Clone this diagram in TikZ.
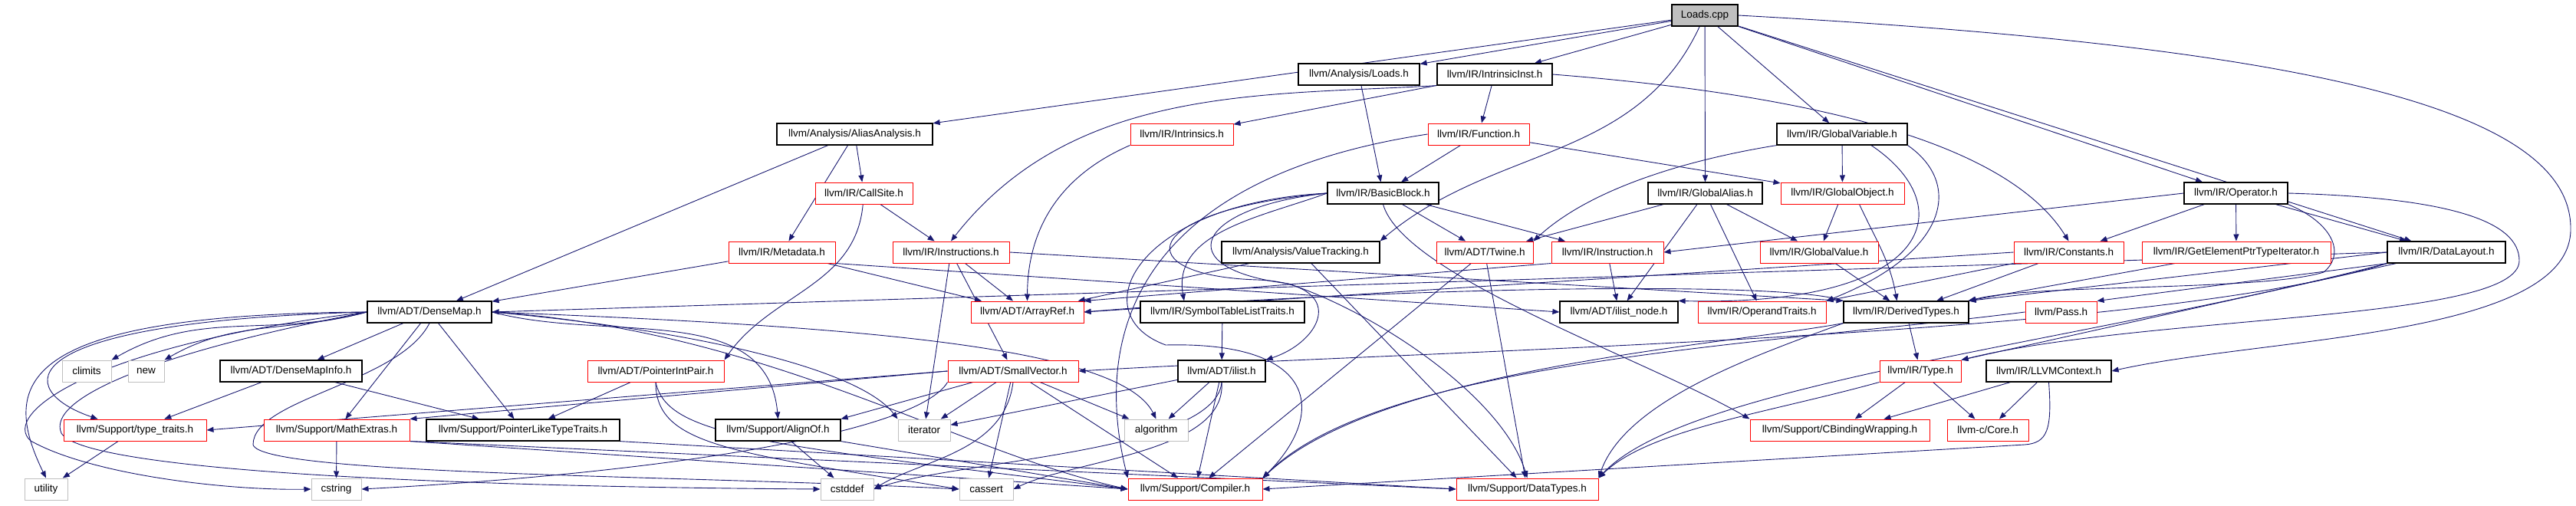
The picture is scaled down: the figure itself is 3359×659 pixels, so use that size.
\documentclass[tikz,border=0pt]{standalone}
\usepackage{fontspec}
\setsansfont{Liberation Sans}
\usetikzlibrary{arrows.meta,positioning,backgrounds}
\definecolor{IncNavy}{RGB}{25,25,112}
\definecolor{HdrGray}{RGB}{191,191,191}
\tikzset{
  hdr/.style={draw=black,line width=1.2pt,fill=white,minimum height=28,inner sep=0pt,
    font=\sffamily\fontsize{13.5}{14}\selectfont},
  hdrred/.style={hdr,draw=red,line width=1pt},
  syshdr/.style={hdr,draw=HdrGray,line width=1pt},
  inc/.style={-{Triangle[length=9pt,width=7pt]},draw=IncNavy,line width=0.9pt}
}

\begin{document}
\begin{tikzpicture}[x=1pt,y=1pt,line cap=round]
\useasboundingbox (0,0) rectangle (3359,-659);
% row 0 - 2
\node[hdr,fill=HdrGray,minimum width=86] (loadscpp) at (2223,-20) {Loads.cpp};
\node[hdr,minimum width=158] (loadsh) at (1772,-97) {llvm/Analysis/Loads.h};
\node[hdr,minimum width=150] (intrinsicinst) at (1949,-97) {llvm/IR/IntrinsicInst.h};
\node[hdr,minimum width=203] (aliasanalysis) at (1114.5,-175) {llvm/Analysis/AliasAnalysis.h};
\node[hdrred,minimum width=134] (intrinsics) at (1541,-175) {llvm/IR/Intrinsics.h};
\node[hdrred,minimum width=132] (function) at (1928,-175) {llvm/IR/Function.h};
\node[hdr,minimum width=170] (globalvariable) at (2402,-175) {llvm/IR/GlobalVariable.h};
% row 3
\node[hdrred,minimum width=127] (callsite) at (1126.5,-252) {llvm/IR/CallSite.h};
\node[hdr,minimum width=145] (basicblock) at (1803.5,-252) {llvm/IR/BasicBlock.h};
\node[hdr,minimum width=149] (globalalias) at (2223.5,-252) {llvm/IR/GlobalAlias.h};
\node[hdrred,minimum width=161] (globalobject) at (2402.5,-252) {llvm/IR/GlobalObject.h};
\node[hdr,minimum width=135] (operator) at (2915.5,-252) {llvm/IR/Operator.h};
% row 4
\node[hdrred,minimum width=139] (metadata) at (1019.5,-329) {llvm/IR/Metadata.h};
\node[hdrred,minimum width=152] (instructions) at (1240,-329) {llvm/IR/Instructions.h};
\node[hdr,minimum width=206] (valuetracking) at (1696,-329) {llvm/Analysis/ValueTracking.h};
\node[hdrred,minimum width=126] (twine) at (1936,-329) {llvm/ADT/Twine.h};
\node[hdrred,minimum width=146] (instruction) at (2096,-329) {llvm/IR/Instruction.h};
\node[hdrred,minimum width=154] (globalvalue) at (2372,-329) {llvm/IR/GlobalValue.h};
\node[hdrred,minimum width=143] (constants) at (2697.5,-329) {llvm/IR/Constants.h};
\node[hdrred,minimum width=246] (gepti) at (2916,-329) {llvm/IR/GetElementPtrTypeIterator.h};
\node[hdr,minimum width=154] (datalayout) at (3190,-329) {llvm/IR/DataLayout.h};
% row 5
\node[hdr,minimum width=162] (densemap) at (560,-407) {llvm/ADT/DenseMap.h};
\node[hdrred,minimum width=147] (arrayref) at (1339.5,-407) {llvm/ADT/ArrayRef.h};
\node[hdr,minimum width=214] (symtab) at (1594,-407) {llvm/IR/SymbolTableListTraits.h};
\node[hdr,minimum width=154] (ilistnode) at (2111,-407) {llvm/ADT/ilist\_node.h};
\node[hdrred,minimum width=167] (operandtraits) at (2297.5,-407) {llvm/IR/OperandTraits.h};
\node[hdr,minimum width=163] (derivedtypes) at (2485.5,-407) {llvm/IR/DerivedTypes.h};
\node[hdrred,minimum width=93] (pass) at (2687.5,-407) {llvm/Pass.h};
% row 6
\node[syshdr,minimum width=64] (climits) at (113,-484) {climits};
\node[syshdr,minimum width=47] (new) at (190.5,-484) {new};
\node[hdr,minimum width=185] (densemapinfo) at (379.5,-484) {llvm/ADT/DenseMapInfo.h};
\node[hdrred,minimum width=178] (pointerintpair) at (855,-484) {llvm/ADT/PointerIntPair.h};
\node[hdrred,minimum width=170] (smallvector) at (1321,-484) {llvm/ADT/SmallVector.h};
\node[hdr,minimum width=114] (ilist) at (1593,-484) {llvm/ADT/ilist.h};
\node[hdrred,minimum width=106] (type) at (2504,-484) {llvm/IR/Type.h};
\node[hdr,minimum width=163] (llvmcontext) at (2671.5,-484) {llvm/IR/LLVMContext.h};
% row 7
\node[hdrred,minimum width=186] (typetraits) at (176,-561) {llvm/Support/type\_traits.h};
\node[hdrred,minimum width=190] (mathextras) at (439,-561) {llvm/Support/MathExtras.h};
\node[hdr,minimum width=252] (plt) at (682,-561) {llvm/Support/PointerLikeTypeTraits.h};
\node[hdr,minimum width=163] (alignof) at (1014.5,-561) {llvm/Support/AlignOf.h};
\node[syshdr,minimum width=68] (iterator) at (1205,-561) {iterator};
\node[syshdr,minimum width=83] (algorithm) at (1507.5,-561) {algorithm};
\node[hdrred,minimum width=234] (cbinding) at (2399,-561) {llvm/Support/CBindingWrapping.h};
\node[hdrred,minimum width=106] (core) at (2592,-561) {llvm-c/Core.h};
% row 8
\node[syshdr,minimum width=56] (utility) at (60,-638) {utility};
\node[syshdr,minimum width=65] (cstring) at (438.5,-638) {cstring};
\node[syshdr,minimum width=69] (cstddef) at (1104.5,-638) {cstddef};
\node[syshdr,minimum width=70] (cassert) at (1286,-638) {cassert};
\node[hdrred,minimum width=175] (compiler) at (1558.5,-638) {llvm/Support/Compiler.h};
\node[hdrred,minimum width=185] (datatypes) at (1991.5,-638) {llvm/Support/DataTypes.h};

\begin{scope}[on background layer]
% Loads.cpp
\draw[inc] (loadscpp) -- (loadsh); \draw[inc] (loadscpp) -- (intrinsicinst);
\draw[inc] (loadscpp) -- (aliasanalysis);
\draw[inc] (loadscpp) to[out=-115,in=40] (valuetracking.north east);
\draw[inc] (loadscpp) -- (globalalias); \draw[inc] (loadscpp) -- (globalvariable);
\draw[inc] (loadscpp) -- (operator); \draw[inc] (loadscpp) -- (datalayout);
\draw[inc] (loadscpp.east) .. controls (3000,-60) and (3355,-140) .. (3352,-300)
  .. controls (3350,-440) and (2950,-440) .. (llvmcontext.east);
% rows 1 - 2
\draw[inc] (loadsh) -- (basicblock);
\draw[inc] (intrinsicinst) -- (intrinsics); \draw[inc] (intrinsicinst) -- (function);
\draw[inc] (intrinsicinst.south west) .. controls (1650,-125) and (1400,-110) .. (instructions.north);
\draw[inc] (intrinsicinst.east) .. controls (2380,-125) and (2620,-190) .. (constants.north);
\draw[inc] (aliasanalysis) -- (densemap); \draw[inc] (aliasanalysis) -- (metadata);
\draw[inc] (aliasanalysis) -- (callsite);
\draw[inc] (intrinsics.south west) .. controls (1380,-230) and (1340,-300) .. (arrayref.north);
\draw[inc] (function) -- (basicblock); \draw[inc] (function) -- (globalobject);
\draw[inc] (function.west) .. controls (1500,-230) and (1420,-420) .. (compiler.north west);
\draw[inc] (globalvariable.south west) .. controls (2220,-205) and (2080,-240) .. (twine.north east);
\draw[inc] (globalvariable) -- (globalobject);
\draw[inc] (globalvariable.south east) .. controls (2560,-240) and (2540,-330) .. (operandtraits.north east);
\draw[inc] ([xshift=38]globalvariable.south) .. controls (2560,-270) and (2520,-400) .. (ilistnode.north east);
% row 3
\draw[inc] (callsite) -- (instructions);
\draw[inc] (callsite) to[out=-95,in=55] (pointerintpair.north east);
\draw[inc] (basicblock) -- (twine); \draw[inc] (basicblock) -- (instruction);
\draw[inc] (basicblock.west) to[out=200,in=100] ([xshift=-50]symtab.north);
\draw[inc] (basicblock.west) .. controls (1480,-275) and (1470,-360) .. (1640,-365)
  .. controls (1760,-370) and (1725,-445) .. (ilist.north east);
\draw[inc] (basicblock.south) .. controls (1830,-360) and (2150,-470) .. (cbinding.north west);
\draw[inc] (basicblock.west) .. controls (1560,-270) and (1520,-350) .. (1680,-370)
  .. controls (1800,-410) and (1960,-520) .. (datatypes.north);
\draw[inc] (basicblock.west) .. controls (1480,-265) and (1410,-410) .. (1520,-450)
  .. controls (1720,-445) and (1730,-540) .. (compiler.north east);
\draw[inc] (globalalias) -- (twine); \draw[inc] (globalalias) -- (globalvalue);
\draw[inc] (globalalias) -- (ilistnode); \draw[inc] (globalalias) -- (operandtraits);
\draw[inc] (globalobject) -- (globalvalue);
\draw[inc] ([xshift=22]globalobject.south) to[out=-65,in=100] ([xshift=-12]derivedtypes.north);
\draw[inc] (operator.west) -- (instruction.east);
\draw[inc] (operator) -- (constants); \draw[inc] (operator) -- (gepti);
\draw[inc] (operator) -- (datalayout);
\draw[inc] (operator.south east) .. controls (3040,-290) and (3060,-330) .. (3030,-355)
  .. controls (2950,-380) and (2650,-370) .. (derivedtypes.north east);
\draw[inc] (operator.east) .. controls (3200,-258) and (3285,-290) .. (3285,-340)
  .. controls (3285,-420) and (2800,-410) .. (type.north east);
% row 4
\draw[inc] (metadata) -- (densemap); \draw[inc] (metadata) -- (arrayref);
\draw[inc] (metadata.south east) -- (ilistnode.west);
\draw[inc] (instructions) -- (arrayref); \draw[inc] (instructions) -- (smallvector);
\draw[inc] (instructions) -- (iterator);
\draw[inc] (instructions.east) -- (derivedtypes.north west);
\draw[inc] (valuetracking) -- (arrayref); \draw[inc] (valuetracking) -- (datatypes);
\draw[inc] (twine) -- (compiler); \draw[inc] (twine) -- (datatypes);
\draw[inc] (instruction) -- (ilistnode);
\draw[inc] (instruction.south west) -- (arrayref.north east);
\draw[inc] (globalvalue) -- (derivedtypes);
\draw[inc] (constants) -- (derivedtypes);
\draw[inc] (constants.south west) -- (operandtraits.north east);
\draw[inc] (constants.west) -- (arrayref.east);
\draw[inc] (gepti) -- (derivedtypes);
\draw[inc] (datalayout.west) -- (densemap.east);
\draw[inc] (datalayout.south west) .. controls (2800,-440) and (1900,-455) .. (smallvector.east);
\draw[inc] (datalayout.west) -- (derivedtypes.north east);
\draw[inc] (datalayout.south west) -- (pass.north east);
\draw[inc] (datalayout) -- (type.north east);
\draw[inc] (datalayout.south west) .. controls (2700,-450) and (2200,-500) .. (datatypes.north east);
% row 5
\draw[inc] (densemap) -- (densemapinfo);
\draw[inc] (densemap.west) to[out=195,in=30] (climits.north east);
\draw[inc] (densemap.west) to[out=195,in=30] (new.north east);
\draw[inc] (densemap.west) .. controls (0,-420) and (20,-510) .. ([xshift=45]typetraits.north west);
\draw[inc] (densemap.west) .. controls (20,-410) and (0,-500) .. (utility.north);
\draw[inc] (densemap.west) .. controls (120,-450) and (0,-540) .. (40,-575)
  .. controls (120,-620) and (300,-640) .. (cstring.west);
\draw[inc] (densemap.west) .. controls (200,-460) and (60,-520) .. (80,-565)
  .. controls (110,-615) and (600,-635) .. (cstddef.west);
\draw[inc] (densemap) -- (mathextras); \draw[inc] (densemap) -- (plt);
\draw[inc] (densemap.south) .. controls (520,-500) and (330,-520) .. (330,-580)
  .. controls (340,-620) and (900,-620) .. (cassert.west);
\draw[inc] (densemap.east) to[out=-15,in=95] (alignof.north);
\draw[inc] (densemap.east) .. controls (900,-430) and (1120,-480) .. (iterator.north west);
\draw[inc] (densemap.east) .. controls (1100,-425) and (1460,-450) .. (algorithm.north);
\draw[inc] (densemap.east) .. controls (1000,-430) and (1250,-590) .. (compiler.west);
\draw[inc] (symtab) -- (ilist);
\draw[inc] (derivedtypes) -- (type);
\draw[inc] (derivedtypes.north west) .. controls (2330,-365) and (1800,-375) .. (arrayref.east);
\draw[inc] (derivedtypes.south west) .. controls (2250,-450) and (1800,-480) .. (compiler.north east);
\draw[inc] (derivedtypes.south west) .. controls (2300,-460) and (2120,-520) .. (datatypes.north east);
\draw[inc] (pass.west) .. controls (2300,-450) and (1800,-470) .. (compiler.north east);
% row 6
\draw[inc] (densemapinfo) -- (typetraits); \draw[inc] (densemapinfo) -- (plt);
\draw[inc] (pointerintpair) -- (plt);
\draw[inc] (pointerintpair.south) .. controls (855,-580) and (950,-590) .. (cassert.west);
\draw[inc] (pointerintpair.south) .. controls (870,-570) and (1000,-580) .. (compiler.west);
\draw[inc] (smallvector.west) -- (typetraits.east);
\draw[inc] (smallvector.west) -- (mathextras.north east);
\draw[inc] (smallvector) -- (alignof.north east);
\draw[inc] (smallvector) -- (iterator); \draw[inc] (smallvector) -- (algorithm);
\draw[inc] (smallvector) -- (cassert); \draw[inc] (smallvector) -- (compiler);
\draw[inc] (smallvector.south) .. controls (1310,-590) and (1200,-600) .. (cstddef.east);
\draw[inc] (smallvector.south west) .. controls (1200,-560) and (900,-615) .. (cstring.east);
\draw[inc] (ilist) -- (iterator); \draw[inc] (ilist) -- (algorithm);
\draw[inc] (ilist.south) .. controls (1585,-590) and (1250,-600) .. (cstddef.east);
\draw[inc] (ilist.south) .. controls (1600,-590) and (1400,-600) .. (cassert.east);
\draw[inc] (ilist) -- (compiler);
\draw[inc] (type) -- (cbinding); \draw[inc] (type) -- (core);
\draw[inc] (type.south west) .. controls (2300,-540) and (2150,-560) .. (datatypes.north east);
\draw[inc] (llvmcontext) -- ([xshift=-60]cbinding.north east);
\draw[inc] (llvmcontext) -- (core);
\draw[inc] (llvmcontext.south) .. controls (2676,-560) and (2670,-578) .. (2640,-580) -- (compiler.east);
% row 7
\draw[inc] (typetraits) -- (utility); \draw[inc] (mathextras) -- (cstring);
\draw[inc] (mathextras.south east) -- (compiler.west);
\draw[inc] (mathextras.south east) -- (datatypes.west);
\draw[inc] (plt.south east) -- (datatypes.west);
\draw[inc] (alignof) -- (cstddef);
\draw[inc] (alignof.south east) -- (compiler.west);
\end{scope}
\end{tikzpicture}
\end{document}
